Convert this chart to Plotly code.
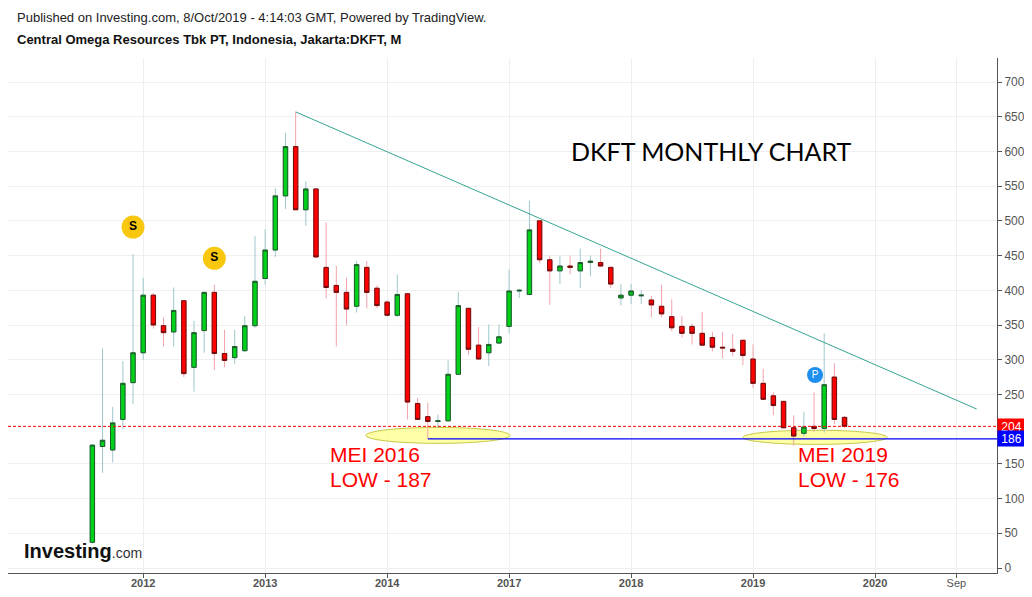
import plotly.graph_objects as go

# monthly candles, DKFT (Jakarta), trading halted between Feb 2014 and Mar 2016
months = ['Aug11', 'Sep11', 'Oct11', 'Nov11', 'Dec11',
          'Jan12', 'Feb12', 'Mar12', 'Apr12', 'May12', 'Jun12', 'Jul12', 'Aug12', 'Sep12', 'Oct12', 'Nov12', 'Dec12',
          'Jan13', 'Feb13', 'Mar13', 'Apr13', 'May13', 'Jun13', 'Jul13', 'Aug13', 'Sep13', 'Oct13', 'Nov13', 'Dec13',
          'Jan14', 'Feb14',
          'Mar16', 'Apr16', 'May16', 'Jun16', 'Jul16', 'Aug16', 'Sep16', 'Oct16', 'Nov16', 'Dec16',
          'Jan17', 'Feb17', 'Mar17', 'Apr17', 'May17', 'Jun17', 'Jul17', 'Aug17', 'Sep17', 'Oct17', 'Nov17', 'Dec17',
          'Jan18', 'Feb18', 'Mar18', 'Apr18', 'May18', 'Jun18', 'Jul18', 'Aug18', 'Sep18', 'Oct18', 'Nov18', 'Dec18',
          'Jan19', 'Feb19', 'Mar19', 'Apr19', 'May19', 'Jun19', 'Jul19', 'Aug19', 'Sep19', 'Oct19']

open_ = [37, 175, 170, 214, 267,
         310, 393, 349, 340, 385, 289, 342, 397, 309, 303, 313, 349,
         417, 458, 536, 607, 516, 546, 433, 407, 397, 377, 433, 403,
         383, 364,
         395, 237, 218, 211, 212, 279, 374, 321, 310, 324,
         348, 399, 394, 500, 444, 428, 435, 428, 440, 440, 433, 389,
         393, 392, 386, 377, 362, 348, 348, 338, 332, 318, 315, 328,
         301, 266, 248, 240, 202, 194, 204, 201, 275, 217]
high = [178, 316, 232, 298, 452,
        418, 396, 361, 404, 386, 356, 398, 408, 343, 343, 363, 478,
        488, 547, 627, 657, 557, 547, 498, 435, 418, 442, 442, 407,
        386, 423,
        396, 245, 238, 221, 299, 398, 375, 347, 351, 351,
        430, 402, 529, 501, 450, 450, 450, 460, 450, 460, 434, 409,
        409, 400, 392, 408, 387, 363, 352, 369, 340, 340, 337, 328,
        322, 287, 253, 240, 220, 225, 253, 338, 295, 219]
low = [35, 137, 152, 200, 236,
       300, 345, 319, 319, 275, 254, 310, 285, 289, 294, 311, 346,
       408, 448, 517, 516, 493, 447, 388, 319, 350, 368, 374, 374,
       363, 362,
       214, 213, 186, 202, 211, 278, 307, 300, 291, 323,
       338, 389, 393, 439, 379, 409, 423, 403, 420, 434, 403, 378,
       380, 380, 361, 361, 341, 332, 322, 321, 312, 302, 305, 292,
       259, 243, 220, 201, 176, 189, 196, 195, 207, 202]
close = [177, 184, 209, 266, 310,
         393, 350, 339, 371, 280, 339, 397, 309, 299, 319, 349, 413,
         458, 536, 607, 516, 546, 448, 404, 397, 373, 437, 397, 378,
         364, 394,
         239, 214, 211, 212, 279, 378, 315, 301, 322, 333,
         399, 400, 487, 444, 428, 435, 433, 440, 442, 435, 409, 393,
         399, 393, 379, 366, 346, 338, 338, 321, 318, 317, 312, 306,
         266, 243, 234, 202, 190, 203, 201, 264, 214, 204]

# axis ticks (candle index -> label)
tick_pos = [5, 17, 29, 41, 53, 65, 77, 85]
tick_text = ['2012', '2013', '2014', '2017', '2018', '2019', '2020', 'Sep']
price_ticks = [0, 50, 100, 150, 250, 300, 350, 400, 450, 500, 550, 600, 650, 700]

# drawings on the chart
trend_x = [20, 87]
trend_y = [657, 229]
last_price = 204
support = 186
support_from = 33
low_2016_idx = 33
low_2019_idx = 69
split_idx = [4, 12]
split_y = [491, 446]
pub_idx = [71.1]
pub_y = [278]

x = list(range(len(months)))
body_hi = [max(o, c) for o, c in zip(open_, close)]
body_lo = [min(o, c) for o, c in zip(open_, close)]

fig = go.Figure()

# wicks (light colours)
fig.add_trace(go.Candlestick(
    x=x, open=open_, high=high, low=low, close=close,
    increasing=dict(line=dict(color='#9fc7cc', width=1), fillcolor='#9fc7cc'),
    decreasing=dict(line=dict(color='#f3a3ab', width=1), fillcolor='#f3a3ab'),
    hoverinfo='skip', showlegend=False))

# bodies with dark outline
fig.add_trace(go.Candlestick(
    x=x, open=open_, high=body_hi, low=body_lo, close=close,
    increasing=dict(line=dict(color='#1e5a28', width=1), fillcolor='#00d21a'),
    decreasing=dict(line=dict(color='#6b0d0d', width=1), fillcolor='#ff0000'),
    text=months, showlegend=False))

# split / publication markers
fig.add_trace(go.Scatter(
    x=split_idx, y=split_y, mode='markers+text', text=['<b>S</b>', '<b>S</b>'],
    textposition='middle center', textfont=dict(family='Liberation Sans', size=12, color='black'),
    marker=dict(size=23, color='#f9c80e'), hoverinfo='skip', showlegend=False))
fig.add_trace(go.Scatter(
    x=pub_idx, y=pub_y, mode='markers+text', text=['P'],
    textposition='middle center', textfont=dict(family='Liberation Sans', size=10, color='white'),
    marker=dict(size=16, color='#1e8ff0'), hoverinfo='skip', showlegend=False))

x_lo, x_hi = -8.3, 89.0

shapes = [
    # low zones
    dict(type='circle', xref='x', yref='y', x0=26.9, x1=41.1, y0=179.5, y1=202.5,
         fillcolor='rgba(255,255,110,0.6)', line=dict(color='#c9c94a', width=1), layer='between'),
    dict(type='circle', xref='x', yref='y', x0=64.0, x1=78.2, y0=178, y1=198.5,
         fillcolor='rgba(255,255,110,0.6)', line=dict(color='#c9c94a', width=1), layer='between'),
    # last price / support lines
    dict(type='line', xref='x', yref='y', x0=x_lo, x1=x_hi, y0=last_price, y1=last_price,
         line=dict(color='#ff0000', width=1, dash='3px,2px')),
    dict(type='line', xref='x', yref='y', x0=support_from, x1=x_hi, y0=support, y1=support,
         line=dict(color='#0000ff', width=1.3)),
    # down trend line
    dict(type='line', xref='x', yref='y', x0=trend_x[0], x1=trend_x[1], y0=trend_y[0], y1=trend_y[1],
         line=dict(color='#35a593', width=1)),
]

red_font = dict(family='Liberation Sans', size=21, color='#ff0000')
annotations = [
    dict(xref='paper', yref='paper', x=0.0071, y=1.0796, xanchor='left', yanchor='middle', showarrow=False,
         text='Published on Investing.com, 8/Oct/2019 - 4:14:03 GMT, Powered by TradingView.',
         font=dict(family='Liberation Sans', size=13, color='#222')),
    dict(xref='paper', yref='paper', x=0.0071, y=1.035, xanchor='left', yanchor='middle', showarrow=False,
         text='<b>Central Omega Resources Tbk PT, Indonesia, Jakarta:DKFT, M</b>',
         font=dict(family='Liberation Sans', size=13, color='#111')),
    dict(xref='paper', yref='paper', x=0.0142, y=0.043, xanchor='left', yanchor='middle', showarrow=False,
         text="<b>Investing</b><span style='font-size:14px;color:#333'>.com</span>",
         font=dict(family='Liberation Sans', size=20, color='#111')),
    dict(xref='x', yref='y', x=60.9, y=600, showarrow=False, text='DKFT MONTHLY CHART',
         font=dict(family='Lato', size=25, color='black')),
    dict(xref='x', yref='y', x=low_2016_idx - 9.8, y=164, xanchor='left', yanchor='middle', showarrow=False,
         text='MEI 2016', font=red_font),
    dict(xref='x', yref='y', x=low_2016_idx - 9.8, y=127, xanchor='left', yanchor='middle', showarrow=False,
         text='LOW - 187', font=red_font),
    dict(xref='x', yref='y', x=low_2019_idx + 0.2, y=164, xanchor='left', yanchor='middle', showarrow=False,
         text='MEI 2019', font=red_font),
    dict(xref='x', yref='y', x=low_2019_idx + 0.2, y=127, xanchor='left', yanchor='middle', showarrow=False,
         text='LOW - 176', font=red_font),
    dict(xref='paper', yref='y', x=1.0, y=last_price, xanchor='left', yanchor='middle', showarrow=False,
         text=str(last_price), bgcolor='#ff0000', width=27, height=15, borderpad=0,
         font=dict(family='Liberation Sans', size=12, color='white')),
    dict(xref='paper', yref='y', x=1.0, y=support, xanchor='left', yanchor='middle', showarrow=False,
         text=str(support), bgcolor='#0000ff', width=27, height=15, borderpad=0,
         font=dict(family='Liberation Sans', size=12, color='white')),
]

# page body adds an 8px margin, so the figure is sized to sit inside the window
fig.update_layout(
    width=1016, height=581,
    margin=dict(l=0, r=27, t=50, b=16, autoexpand=False),
    paper_bgcolor='white', plot_bgcolor='white',
    boxgap=0.38,
    hovermode='closest',
    shapes=shapes, annotations=annotations,
    xaxis=dict(range=[x_lo, x_hi], tickvals=tick_pos, automargin=False,
               ticktext=['<b>%s</b>' % t if t != 'Sep' else t for t in tick_text],
               tickfont=dict(family='Liberation Sans', size=11, color='#555'),
               ticklabelstandoff=-4,
               showgrid=True, gridcolor='#efefef', zeroline=False,
               showline=True, linecolor='#555', linewidth=1, ticks='outside', ticklen=4, tickcolor='#555',
               rangeslider=dict(visible=False), fixedrange=True),
    yaxis=dict(side='right', range=[-7.2, 734.6], tickvals=price_ticks, automargin=False,
               tickfont=dict(family='Liberation Sans', size=12, color='#555'),
               showgrid=True, gridcolor='#efefef', zeroline=False,
               showline=True, linecolor='#555', linewidth=1, ticks='outside', ticklen=4, tickcolor='#555',
               fixedrange=True),
)

fig.write_html("out.html")
